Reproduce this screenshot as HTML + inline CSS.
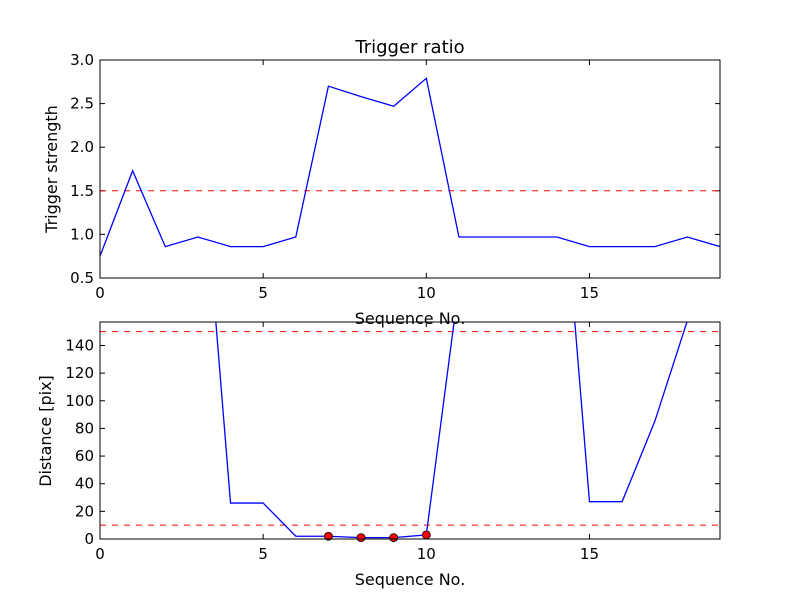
<!DOCTYPE html>
<html><head><meta charset="utf-8"><style>body{margin:0;background:#fff}svg text{font-family:"DejaVu Sans","Liberation Sans",sans-serif}</style></head>
<body>
<svg id="fig" width="800" height="600" xmlns="http://www.w3.org/2000/svg">
<rect width="800" height="600" fill="#fff"/>
<defs>
<clipPath id="c1"><rect x="100" y="60" width="620" height="218"/></clipPath>
<clipPath id="c2"><rect x="100" y="322" width="620" height="217"/></clipPath>
</defs>
<g id="top"></g><g id="bot"></g>
</svg>
<script>
const seq = [0,1,2,3,4,5,6,7,8,9,10,11,12,13,14,15,16,17,18,19];
const strength = [0.75,1.73,0.86,0.97,0.86,0.86,0.97,2.70,2.58,2.47,2.79,0.97,0.97,0.97,0.97,0.86,0.86,0.86,0.97,0.86];
const strengthThreshold = 1.5;
const distance = [300,300,300,317,26,26,2,2,1,1,3,184,300,300,316,27,27,85,158,300];
const hitSeq = [7,8,9,10];
const hitDist = [2,1,1,3];
const distThresholds = [10,150];
const xTicks = [0,5,10,15];
const yTicksTop = [0.5,1.0,1.5,2.0,2.5,3.0];
const yTicksBot = [0,20,40,60,80,100,120,140];

const NS="http://www.w3.org/2000/svg";
function mk(p,t,a,txt){const e=document.createElementNS(NS,t);for(const k in a)e.setAttribute(k,a[k]);if(txt!==undefined)e.textContent=txt;p.appendChild(e);return e;}
const X0=100,X1=720;
const xs=v=>X0+(v-0)/19*(X1-X0);

function axes(g,top,bot,ymin,ymax,yticks,fmt,clip,name){
  const ys=v=>bot-(v-ymin)/(ymax-ymin)*(bot-top);
  xTicks.forEach(t=>{
    const l=mk(g,'line',{x1:xs(t),x2:xs(t),y1:bot,y2:bot-5,stroke:'#000'});
    
    mk(g,'line',{x1:xs(t),x2:xs(t),y1:top,y2:top+5,stroke:'#000'});
    const tx=mk(g,'text',{x:xs(t),y:bot+20,'text-anchor':'middle','font-size':15},String(t));
    
  });
  yticks.forEach(t=>{
    const l=mk(g,'line',{x1:X0,x2:X0+5,y1:ys(t),y2:ys(t),stroke:'#000'});
    
    mk(g,'line',{x1:X1,x2:X1-5,y1:ys(t),y2:ys(t),stroke:'#000'});
    const tx=mk(g,'text',{x:X0-6,y:ys(t)+5,'text-anchor':'end','font-size':15},fmt(t));
    
  });
  return ys;
}
// top
const gt=document.getElementById('top');
const ysT=axes(gt,60,278,0.5,3.0,yTicksTop,v=>v.toFixed(1),'c1','top');
const pg1=mk(gt,'g',{'clip-path':'url(#c1)'});
let th=mk(pg1,'line',{x1:X0,x2:X1,y1:ysT(strengthThreshold),y2:ysT(strengthThreshold),stroke:'#f00','stroke-dasharray':'6,6'});

let ln=mk(pg1,'polyline',{points:seq.map((s,i)=>xs(s)+','+ysT(strength[i])).join(' '),fill:'none',stroke:'#00f','stroke-width':1.3});

let fr=mk(gt,'rect',{x:X0,y:60,width:620,height:218,fill:'none',stroke:'#000'});

let t1=mk(gt,'text',{x:410,y:53,'text-anchor':'middle','font-size':18},'Trigger ratio');

let yl=mk(gt,'text',{x:57,y:169,'text-anchor':'middle','font-size':16,transform:'rotate(-90 57 169)'},'Trigger strength');

let xl=mk(gt,'text',{x:410,y:324,'text-anchor':'middle','font-size':16},'Sequence No.');

// bottom
const gb=document.getElementById('bot');
const ysB=axes(gb,322,539,0,157,yTicksBot,v=>String(v),'c2','bot');
const pg2=mk(gb,'g',{'clip-path':'url(#c2)'});
distThresholds.forEach(v=>{
  const l=mk(pg2,'line',{x1:X0,x2:X1,y1:ysB(v),y2:ysB(v),stroke:'#f00','stroke-dasharray':'6,6'});
  
});
let ln2=mk(pg2,'polyline',{points:seq.map((s,i)=>xs(s)+','+ysB(distance[i])).join(' '),fill:'none',stroke:'#00f','stroke-width':1.3});

hitSeq.forEach((s,i)=>{
  const c=mk(gb,'circle',{cx:xs(s),cy:ysB(hitDist[i]),r:4,fill:'#f00',stroke:'#000','stroke-width':0.8});
  
});
let fr2=mk(gb,'rect',{x:X0,y:322,width:620,height:217,fill:'none',stroke:'#000'});

let yl2=mk(gb,'text',{x:51,y:431,'text-anchor':'middle','font-size':16,transform:'rotate(-90 51 431)'},'Distance [pix]');

let xl2=mk(gb,'text',{x:410,y:585,'text-anchor':'middle','font-size':16},'Sequence No.');

</script>
</body></html>
